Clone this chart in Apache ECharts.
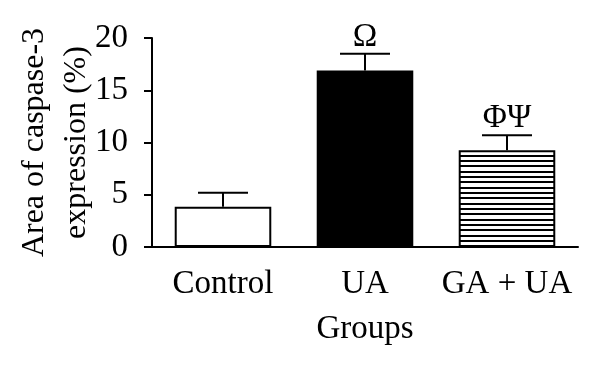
<!DOCTYPE html>
<html>
<head>
<meta charset="utf-8">
<script src="https://cdn.jsdelivr.net/npm/echarts@6/dist/echarts.min.js"></script>
<style>html,body{margin:0;padding:0;background:#fff}#c{width:600px;height:368px}</style>
</head>
<body>
<div id="c"></div>
<script>
var categories = ['Control', 'UA', 'GA + UA'];
var means = [3.85, 16.9, 9.25];
var errUpper = [5.2, 18.5, 10.7];
var sigLabels = ['', 'Ω', 'ΦΨ'];
var yTicks = [0, 5, 10, 15, 20];

var FONT = '"Liberation Serif", "DejaVu Serif", serif';
var FS = 33;

// horizontal stripe pattern
var pc = document.createElement('canvas');
pc.width = 8; pc.height = 16;
var pctx = pc.getContext('2d');
pctx.fillStyle = '#fff';
pctx.fillRect(0, 0, 8, 16);
pctx.fillStyle = '#000';
for (var i = 0; i < 3; i++) {
  pctx.fillRect(0, Math.round(i * 16 / 3), 8, 2);
}
var stripe = { image: pc, repeat: 'repeat' };

var fills = ['#ffffff', '#000000', stripe];

var barData = means.map(function (v, i) {
  return { value: v, itemStyle: { color: fills[i] } };
});
var errData = means.map(function (v, i) {
  return [i, v, errUpper[i]];
});

var chart = echarts.init(document.getElementById('c'), null, { renderer: 'canvas' });
chart.setOption({
  animation: false,
  backgroundColor: '#fff',
  grid: { left: 152, right: 22, top: 38, bottom: 121, containLabel: false, outerBoundsMode: 'none' },
  xAxis: {
    type: 'category',
    data: categories,
    name: 'Groups',
    nameLocation: 'middle',
    nameGap: 66,
    nameMoveOverlap: false,
    nameTextStyle: { fontFamily: FONT, fontSize: FS, color: '#000' },
    axisLine: { lineStyle: { color: '#000', width: 2 } },
    axisTick: { alignWithLabel: true, length: 8, lineStyle: { color: '#000', width: 2 } },
    axisLabel: { interval: 0, margin: 21, fontFamily: FONT, fontSize: FS, color: '#000' }
  },
  yAxis: {
    type: 'value',
    min: yTicks[0],
    max: yTicks[yTicks.length - 1],
    interval: 5,
    name: 'Area of caspase-3\nexpression (%)',
    nameLocation: 'middle',
    nameGap: 54,
    nameMoveOverlap: false,
    nameTextStyle: { fontFamily: FONT, fontSize: 32, color: '#000', lineHeight: 42 },
    splitLine: { show: false },
    axisLine: { show: true, lineStyle: { color: '#000', width: 2 } },
    axisTick: { show: true, length: 8, lineStyle: { color: '#000', width: 2 } },
    axisLabel: { margin: 24, fontFamily: FONT, fontSize: FS, color: '#000' }
  },
  series: [
    {
      type: 'bar',
      data: barData,
      barWidth: '68%',
      itemStyle: { borderColor: '#000', borderWidth: 2 }
    },
    {
      type: 'custom',
      data: errData,
      z: 10,
      renderItem: function (params, api) {
        var x = api.value(0);
        var base = api.coord([x, api.value(1)]);
        var top = api.coord([x, api.value(2)]);
        var half = 25;
        var children = [
          { type: 'line', shape: { x1: base[0], y1: base[1], x2: top[0], y2: top[1] },
            style: { stroke: '#000', lineWidth: 2 } },
          { type: 'line', shape: { x1: top[0] - half, y1: top[1], x2: top[0] + half, y2: top[1] },
            style: { stroke: '#000', lineWidth: 2 } }
        ];
        var lab = sigLabels[params.dataIndex];
        if (lab) {
          children.push({ type: 'text', style: { text: lab, x: top[0], y: top[1],
            align: 'center', verticalAlign: 'bottom',
            font: FS + 'px ' + FONT, fill: '#000' } });
        }
        return { type: 'group', children: children };
      }
    }
  ]
});
</script>
</body>
</html>
